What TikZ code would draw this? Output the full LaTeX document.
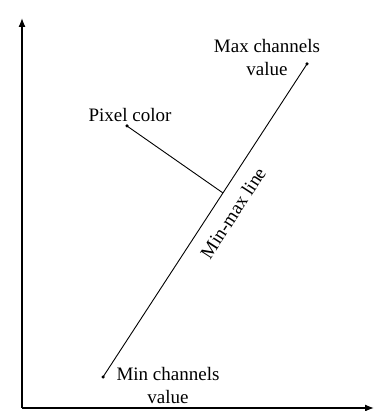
\documentclass[tikz,border=0pt]{standalone}
\usepackage{fontspec}
\setmainfont{Liberation Serif}
\usetikzlibrary{arrows.meta}
\begin{document}
\begin{tikzpicture}[x=1pt,y=1pt,
  dot/.style={circle,fill,inner sep=0pt,minimum size=3.5pt},
  lbl/.style={font=\fontsize{19}{23}\selectfont, align=center, inner sep=0pt},
  axis/.style={line width=1.3pt,-{Latex[length=9pt,width=7pt]}},
  seg/.style={line width=0.9pt}]
\useasboundingbox (0,0) rectangle (374,411);
\coordinate (O) at (22,3);
\coordinate (Ytip) at (22,393);
\coordinate (Xtip) at (374,3);
\draw[axis] (O) -- (Ytip);
\draw[axis] (O) -- (Xtip);
\node[dot] (min) at (103,34) {};
\node[dot] (max) at (307,347) {};
\node[dot] (pix) at (127,285) {};
\coordinate (foot) at (223,218);
\draw[seg] (min.center) -- (max.center);
\draw[seg] (pix.center) -- (foot);
\node[lbl] (maxl) at (267,353.5) {Max channels\\value};
\node[lbl] (pixl) at (130,296) {Pixel color};
\node[lbl] (minl) at (168,25) {Min channels\\value};
\node[lbl, rotate=57] (linel) at (233,198) {Min-max line};
\end{tikzpicture}
\end{document}
